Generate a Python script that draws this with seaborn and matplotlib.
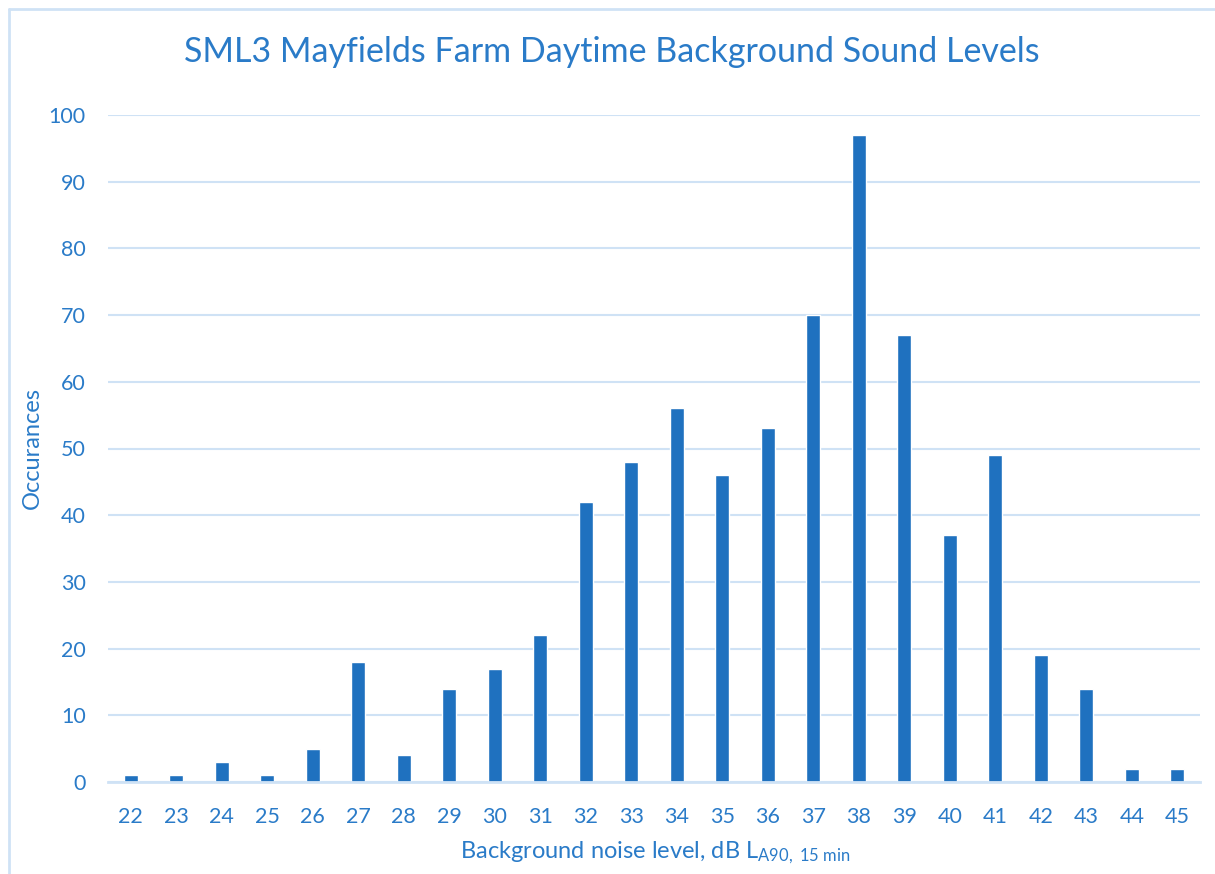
import matplotlib
matplotlib.use("Agg")
import matplotlib.pyplot as plt
import seaborn as sns
import pandas as pd
from matplotlib.lines import Line2D

levels = ["22", "23", "24", "25", "26", "27", "28", "29", "30", "31", "32", "33",
          "34", "35", "36", "37", "38", "39", "40", "41", "42", "43", "44", "45"]
occurrences = [1, 1, 3, 1, 5, 18, 4, 14, 17, 22, 42, 48,
               56, 46, 53, 70, 97, 67, 37, 49, 19, 14, 2, 2]
yticks = [0, 10, 20, 30, 40, 50, 60, 70, 80, 90, 100]

title = "SML3 Mayfields Farm Daytime Background Sound Levels"
ylabel = "Occurances"

sns.set_theme(style="white")
plt.rcParams['font.family'] = ['Lato', 'DejaVu Sans']
plt.rcParams['mathtext.fontset'] = 'custom'
plt.rcParams['mathtext.rm'] = 'Lato'
plt.rcParams['mathtext.it'] = 'Lato'

BAR = "#1F71BF"
TXT = "#2A7BC8"
GRID = "#CFE2F5"

df = pd.DataFrame({"level": levels, "count": occurrences})

fig = plt.figure(figsize=(12.15, 8.74), dpi=100)
ax = fig.add_axes([108/1215, 1 - 782/874, (1200-108)/1215, (782-115)/874])

sns.barplot(data=df, x="level", y="count", order=levels, color=BAR,
            saturation=1, width=0.31, ax=ax, zorder=3)

ax.set_ylim(0, 100)
ax.set_xlim(-0.5, len(levels) - 0.5)
ax.set_yticks(yticks)
ax.set_yticklabels([str(v) for v in yticks])
ax.yaxis.grid(True, color=GRID, linewidth=1.5, zorder=0)
ax.xaxis.grid(False)
for s in ["left", "right", "top"]:
    ax.spines[s].set_visible(False)
ax.spines["bottom"].set_color(GRID)
ax.spines["bottom"].set_linewidth(2)
ax.spines["bottom"].set_zorder(4)
ax.tick_params(axis="both", length=0, colors=TXT, labelsize=15.5)
ax.tick_params(axis="x", pad=18)
ax.tick_params(axis="y", pad=16)
ax.set_xlabel("")
ax.set_ylabel("")

fig.text(612/1215, 1 - 52/874, title, ha="center", va="center",
         fontsize=24.5, color=TXT)
fig.text(32/1215, 1 - 448/874, ylabel, ha="center", va="center",
         rotation=90, fontsize=17, color=TXT)
fig.text(655/1215, 1 - 853/874,
         r"Background noise level, dB L$_{\mathrm{A90,\ 15\ min}}$",
         ha="center", va="center", fontsize=17, color=TXT)

# outer chart-area border (top and left visible in the crop)
fig.add_artist(Line2D([9/1215, 1.0], [1 - 9/874, 1 - 9/874],
                      transform=fig.transFigure, color=GRID, linewidth=2))
fig.add_artist(Line2D([9/1215, 9/1215], [0, 1 - 9/874],
                      transform=fig.transFigure, color=GRID, linewidth=2))

fig.savefig("out.png", dpi=100, facecolor="white")
